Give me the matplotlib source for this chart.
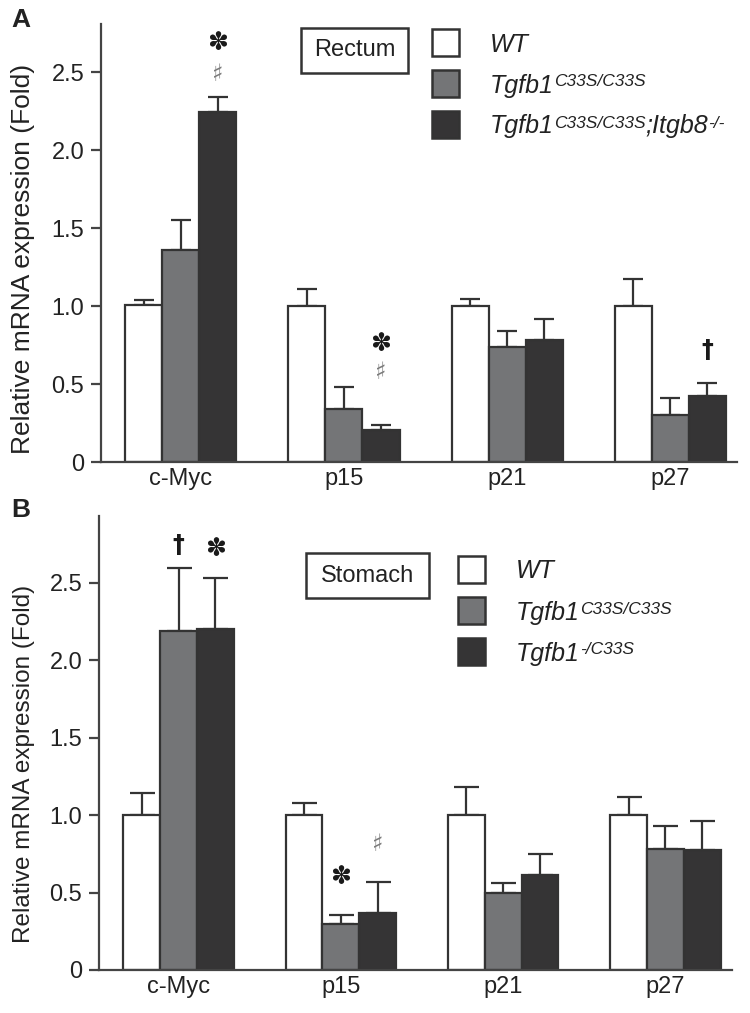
import numpy as np
import matplotlib
matplotlib.use("Agg")
import matplotlib.pyplot as plt
from matplotlib.patches import Rectangle

plt.rcParams['font.family'] = ['Liberation Sans', 'DejaVu Sans']

genes = ["c-Myc", "p15", "p21", "p27"]
yticks = [0, 0.5, 1.0, 1.5, 2.0, 2.5]
ytick_labels = ["0", "0.5", "1.0", "1.5", "2.0", "2.5"]

# Panel A (Rectum)
a_wt = [1.01, 1.00, 1.00, 1.00]
a_wt_err = [0.03, 0.11, 0.045, 0.175]
a_c33s = [1.36, 0.34, 0.735, 0.30]
a_c33s_err = [0.19, 0.14, 0.105, 0.11]
a_itgb8 = [2.245, 0.205, 0.78, 0.425]
a_itgb8_err = [0.095, 0.03, 0.135, 0.08]

# Panel B (Stomach)
b_wt = [1.00, 1.00, 1.00, 1.00]
b_wt_err = [0.14, 0.075, 0.18, 0.115]
b_c33s = [2.19, 0.297, 0.50, 0.78]
b_c33s_err = [0.405, 0.06, 0.06, 0.15]
b_null = [2.20, 0.366, 0.61, 0.775]
b_null_err = [0.33, 0.20, 0.14, 0.185]

# significance marks: (gene index, series index, symbol, y)
a_marks = [(0, 2, "\u273D", 2.69), (0, 2, "\u266F", 2.49),
           (1, 2, "\u273D", 0.76), (1, 2, "\u266F", 0.58),
           (3, 2, "\u2020", 0.72)]
b_marks = [(0, 1, "\u2020", 2.74), (0, 2, "\u273D", 2.72),
           (1, 1, "\u273D", 0.60), (1, 2, "\u266F", 0.81)]

colors = ["white", "#747577", "#353435"]
edge = "#333333"
ink = "#222222"

W, H = 750, 1013
fig = plt.figure(figsize=(W / 100, H / 100), dpi=100)


def fx(x):
    return x / W


def fy(y):
    return 1 - y / H


def panel(rect_px, ymax, series, errs, marks, capsize, lab_size, lab_pos):
    l, t, r, b = rect_px
    ax = fig.add_axes([fx(l), fy(b), (r - l) / W, (b - t) / H])
    x = np.arange(len(genes))
    w = 0.227
    for i, (vals, er) in enumerate(zip(series, errs)):
        pos = x + (i - 1) * w
        ax.errorbar(pos, vals, yerr=[np.zeros(len(vals)), er], fmt="none",
                    ecolor=edge, elinewidth=1.6, capsize=capsize, capthick=1.6,
                    zorder=1)
        ax.bar(pos, vals, width=w, color=colors[i], edgecolor=edge,
               linewidth=1.6, zorder=2)
    for gi, si, sym, yv in marks:
        pos = gi + (si - 1) * w
        if sym == "\u273D":
            ax.text(pos, yv, sym, ha="center", va="center", fontsize=18,
                    color="#1a1a1a", family="DejaVu Sans")
        elif sym == "\u266F":
            ax.text(pos, yv, sym, ha="center", va="center", fontsize=17,
                    color="#7a7a7a", family="DejaVu Sans")
        else:
            ax.text(pos, yv, sym, ha="center", va="center", fontsize=17,
                    color="#1a1a1a", family="DejaVu Sans", fontweight="bold")
    ax.set_xlim(-0.49, 3.41)
    ax.set_ylim(0, ymax)
    ax.set_xticks(x)
    ax.set_xticklabels(genes, fontsize=17, color=ink)
    ax.set_yticks(yticks)
    ax.set_yticklabels(ytick_labels, fontsize=17, color=ink)
    ax.tick_params(axis="x", length=0, pad=4)
    ax.tick_params(axis="y", length=7, width=1.6, color="#444444", pad=5)
    for s in ["top", "right"]:
        ax.spines[s].set_visible(False)
    for s in ["left", "bottom"]:
        ax.spines[s].set_color("#444444")
        ax.spines[s].set_linewidth(1.6)
    ax.set_ylabel("Relative mRNA expression (Fold)", fontsize=lab_size,
                  color=ink)
    ax.yaxis.set_label_coords(*lab_pos)
    return ax


panel((101, 24, 737, 462), 2.81, [a_wt, a_c33s, a_itgb8],
      [a_wt_err, a_c33s_err, a_itgb8_err], a_marks, 7, 19, (-0.104, 0.463))
panel((99, 516, 732, 970), 2.93, [b_wt, b_c33s, b_null],
      [b_wt_err, b_c33s_err, b_null_err], b_marks, 9, 17.5, (-0.101, 0.454))

fig.text(fx(11), fy(27), "A", fontsize=19, fontweight="bold", color=ink)
fig.text(fx(11), fy(517), "B", fontsize=19, fontweight="bold", color=ink)


def boxed(x0, y0, x1, y1, label):
    fig.patches.append(Rectangle((fx(x0), fy(y1)), (x1 - x0) / W, (y1 - y0) / H,
                                 transform=fig.transFigure, facecolor="white",
                                 edgecolor=edge, linewidth=1.8))
    fig.text(fx((x0 + x1) / 2), fy((y0 + y1) / 2), label, ha="center",
             va="center", fontsize=17, color=ink)


boxed(301, 28, 408, 73, "Rectum")
boxed(306, 553, 429, 598, "Stomach")

renderer = fig.canvas.get_renderer()


def rich(x, ybase, parts):
    cur = x
    for txt, kind in parts:
        if kind == "b":
            t = fig.text(fx(cur), fy(ybase), txt, fontsize=18, style="italic",
                         color=ink, va="baseline")
        else:
            t = fig.text(fx(cur), fy(ybase - 6), txt, fontsize=12.5,
                         style="italic", color=ink, va="baseline")
        bb = t.get_window_extent(renderer)
        cur += bb.width


def legend(sq_x, first_top, labels):
    for i, parts in enumerate(labels):
        top = first_top + i * 41
        fig.patches.append(Rectangle((fx(sq_x), fy(top + 27)), 27 / W, 27 / H,
                                     transform=fig.transFigure,
                                     facecolor=colors[i], edgecolor=edge,
                                     linewidth=1.8))
        rich(sq_x + 58, top + 13.5 + 9, parts)


legend(432, 29, [[("WT", "b")],
                 [("Tgfb1", "b"), ("C33S/C33S", "s")],
                 [("Tgfb1", "b"), ("C33S/C33S", "s"), (";Itgb8", "b"), ("-/-", "s")]])
legend(458, 556, [[("WT", "b")],
                  [("Tgfb1", "b"), ("C33S/C33S", "s")],
                  [("Tgfb1", "b"), ("-/C33S", "s")]])

fig.savefig("out.png", dpi=100)
